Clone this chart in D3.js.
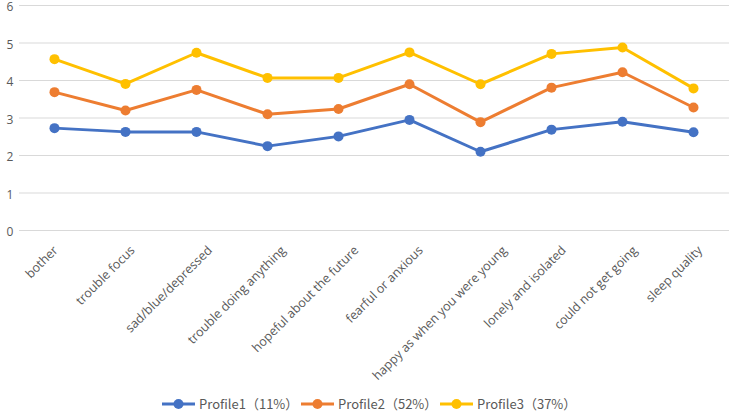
<!DOCTYPE html>
<html><head><meta charset="utf-8">
<script src="https://cdn.jsdelivr.net/npm/d3@7"></script>
<style>body{margin:0;background:#fff}svg{display:block}</style>
</head><body><svg id="c" width="732" height="411"></svg>
<script>
const categories = ["bother","trouble focus","sad/blue/depressed","trouble doing anything","hopeful about the future","fearful or anxious","happy as when you were young","lonely and isolated","could not get going","sleep quality"];
const seriesNames = ["Profile1（11%）","Profile2（52%）","Profile3（37%）"];
const profile1 = [2.73,2.63,2.63,2.25,2.51,2.95,2.10,2.69,2.90,2.62];
const profile2 = [3.69,3.20,3.75,3.10,3.24,3.90,2.89,3.81,4.22,3.28];
const profile3 = [4.57,3.91,4.74,4.07,4.07,4.75,3.90,4.71,4.88,3.79];
const yTicks = [0,1,2,3,4,5,6];
const colors = ["#4472C4","#ED7D31","#FFC000"];
const series = [profile1, profile2, profile3];

const svg = d3.select("#c");
const font = "'Open Sans','Noto Sans CJK SC',sans-serif";
const x = d3.scaleBand().domain(categories).range([19, 729]);
const y = d3.scaleLinear().domain([0, 6]).range([230.5, 5.5]);
const cx = d => x(d) + x.bandwidth()/2;

svg.append("g").selectAll("line").data(yTicks).join("line")
  .attr("x1", 19).attr("x2", 729)
  .attr("y1", d => y(d)).attr("y2", d => y(d))
  .attr("stroke", "#d9d9d9").attr("stroke-width", 1);

svg.append("g").selectAll("text").data(yTicks).join("text")
  .attr("x", 10).attr("y", d => y(d) + 5.5)
  .attr("text-anchor", "middle").attr("font-family", font)
  .attr("font-size", 12).attr("fill", "#595959").text(d => d);

const xl = svg.append("g").selectAll("text").data(categories).join("text")
  .attr("text-anchor", "end").attr("dy", "0.35em")
  .attr("font-family", font).attr("font-size", 12.5).attr("fill", "#595959")
  .text(d => d);
xl.each(function(d) {
  const L = this.getComputedTextLength();
  const off = 1 + 0.16 * (L - 40);
  d3.select(this).attr("transform", `translate(${cx(d) + off},248) rotate(-45)`);
});

const line = d3.line().x((d, i) => cx(categories[i])).y(d => y(d));
series.forEach((s, k) => {
  const g = svg.append("g");
  g.append("path").datum(s).attr("d", line).attr("fill", "none")
    .attr("stroke", colors[k]).attr("stroke-width", 3).attr("stroke-linejoin", "round");
  g.selectAll("circle").data(s).join("circle")
    .attr("cx", (d, i) => cx(categories[i])).attr("cy", d => y(d))
    .attr("r", 5).attr("fill", colors[k]);
});

const legX = [162, 301, 440];
const lg = svg.append("g");
seriesNames.forEach((n, k) => {
  const g = lg.append("g").attr("transform", `translate(${legX[k]},404)`);
  g.append("line").attr("x1", 0).attr("x2", 33).attr("stroke", colors[k]).attr("stroke-width", 3);
  g.append("circle").attr("cx", 16.5).attr("r", 5).attr("fill", colors[k]);
  g.append("text").attr("x", 37).attr("dy", "0.35em").attr("font-family", "'Noto Sans CJK SC','Open Sans',sans-serif")
    .attr("font-size", 13).attr("fill", "#595959").text(n);
});
</script></body></html>
